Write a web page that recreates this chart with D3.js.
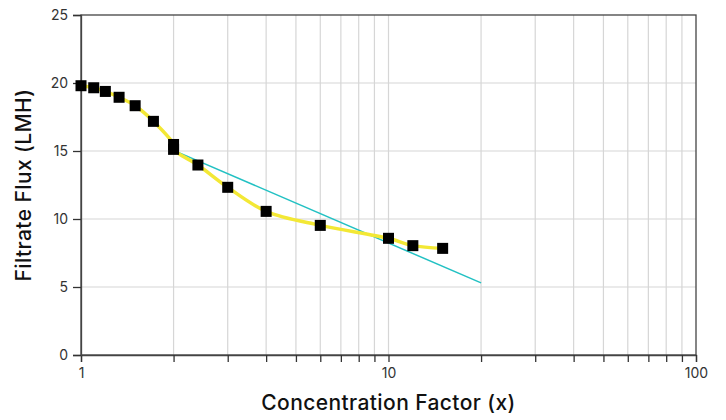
<!DOCTYPE html>
<html><head><meta charset="utf-8">
<script src="https://cdn.jsdelivr.net/npm/d3@7"></script>
<style>
html,body{margin:0;padding:0;background:#fff;}
svg{display:block;}
</style></head>
<body>
<svg id="chart" width="726" height="420"></svg>
<script>
const concFactor = [1, 1.1, 1.2, 1.33, 1.5, 1.72, 2, 2, 2.4, 3, 4, 6, 10, 12, 15];
const fluxValues = [19.8, 19.65, 19.38, 18.95, 18.33, 17.18, 15.48, 15.12, 13.97, 12.33, 10.56, 9.53, 8.58, 8.04, 7.84];
const trendX = [2, 20];
const trendY = [15.05, 5.3];
const yTicks = [0, 5, 10, 15, 20, 25];
const xTickLabels = [1, 10, 100];

const svg = d3.select("#chart");
const m = {left: 81, right: 30, top: 15, bottom: 65};
const W = 726, H = 420;
const x = d3.scaleLog().domain([1, 100]).range([m.left, W - m.right]);
const y = d3.scaleLinear().domain([0, 25]).range([H - m.bottom, m.top]);

const minorTicks = [];
for (let d = 1; d < 100; d *= 10) for (let k = 1; k <= 10; k++) minorTicks.push(d * k);
const xt = Array.from(new Set(minorTicks));

// grid
svg.append("g").selectAll("line").data(xt.filter(v => v > 1 && v < 100)).join("line")
  .attr("x1", d => x(d)).attr("x2", d => x(d)).attr("y1", y(0)).attr("y2", y(25))
  .attr("stroke", "#d6d6d6").attr("stroke-width", 1.2);
svg.append("g").selectAll("line").data(yTicks.filter(v => v > 0 && v < 25)).join("line")
  .attr("x1", x(1)).attr("x2", x(100)).attr("y1", d => y(d)).attr("y2", d => y(d))
  .attr("stroke", "#d6d6d6").attr("stroke-width", 1.2);

// frame
svg.append("rect").attr("x", x(1)).attr("y", y(25)).attr("width", x(100) - x(1)).attr("height", y(0) - y(25))
  .attr("fill", "none").attr("stroke", "#444").attr("stroke-width", 1.3);

// axes
const xAxis = d3.axisBottom(x).tickValues(xt).tickSize(7).tickPadding(6)
  .tickFormat(d => xTickLabels.includes(d) ? d : "");
const gx = svg.append("g").attr("transform", `translate(0,${y(0)})`).call(xAxis);
const yAxis = d3.axisLeft(y).tickValues(yTicks).tickSize(8).tickPadding(5);
const gy = svg.append("g").attr("transform", `translate(${x(1)},0)`).call(yAxis);
[gx, gy].forEach(g => {
  g.select(".domain").attr("stroke", "#444").attr("stroke-width", 1.3);
  g.selectAll(".tick line").attr("stroke", "#333").attr("stroke-width", 1.3);
  g.selectAll(".tick text").attr("fill", "#333").style("font-family", "Inter, sans-serif").style("font-size", "14px");
});

// trend line
svg.append("line").attr("x1", x(trendX[0])).attr("y1", y(trendY[0])).attr("x2", x(trendX[1])).attr("y2", y(trendY[1]))
  .attr("stroke", "#22c1c3").attr("stroke-width", 1.5);

// data line
const pts = concFactor.map((c, i) => [x(c), y(fluxValues[i])]);
svg.append("path").attr("d", d3.line().curve(d3.curveCatmullRom.alpha(0.5))(pts))
  .attr("fill", "none").attr("stroke", "#f3e835").attr("stroke-width", 3.5);

svg.append("g").selectAll("rect").data(pts).join("rect")
  .attr("x", d => d[0] - 5.5).attr("y", d => d[1] - 5.5).attr("width", 11).attr("height", 11)
  .attr("fill", "#000");

// titles
svg.append("text").attr("x", (x(1) + x(100)) / 2).attr("y", 410).attr("text-anchor", "middle")
  .style("font-family", "Inter, sans-serif").style("font-size", "21px").style("font-weight", 500)
  .style("letter-spacing", "0.4px").attr("fill", "#111")
  .text("Concentration Factor (x)");
svg.append("text").attr("transform", `translate(31,${(y(0) + y(25)) / 2}) rotate(-90)`).attr("text-anchor", "middle")
  .style("font-family", "Inter, sans-serif").style("font-size", "21px").style("font-weight", 500)
  .style("letter-spacing", "0.4px").attr("fill", "#111")
  .text("Filtrate Flux (LMH)");
</script>
</body></html>
